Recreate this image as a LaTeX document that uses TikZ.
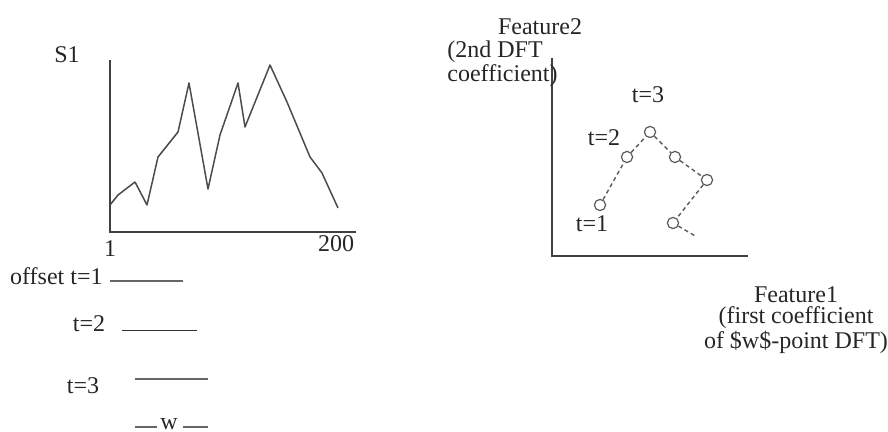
\documentclass[tikz,border=0pt]{standalone}
\usepackage{fontspec}
\setmainfont{Liberation Serif}
\usetikzlibrary{positioning}
\tikzset{
  axisline/.style={
    draw=black!75,
    line width=1.1pt
  },
  seriesline/.style={
    draw=black!70,
    line width=0.75pt,
    line join=round
  },
  winline/.style={
    draw=black!60,
    line width=1.3pt
  },
  featpoint/.style={
    circle,
    draw=black!65,
    line width=0.6pt,
    minimum size=5.6pt,
    inner sep=0pt
  },
  featlink/.style={
    draw=black!65,
    line width=0.7pt,
    dash pattern=on 2pt off 1.6pt
  },
  lbl/.style={
    font=\fontsize{12}{10.5}\selectfont,
    inner sep=0pt,
    text=black!85
  }
}

\begin{document}
\begin{tikzpicture}[x=0.5pt, y=-0.5pt]
  \useasboundingbox (0,0) rectangle (888,432);
  \coordinate (stop) at (110,60);
  \coordinate (sorig) at (110,232);
  \coordinate (send) at (356,232);
  \draw[axisline] (stop) -- (sorig) -- (send);
  \draw[seriesline] (110,205) -- (118,195) -- (135,182) -- (147,205) -- (158,157)
    -- (178,132) -- (189,83) -- (208,189) -- (220,135) -- (238,83) -- (245,127)
    -- (270,65) -- (287,102) -- (310,157) -- (322,173) -- (338,208);
  \node[lbl] (s1) at (67,55) {S1};
  \node[lbl] (first) at (110,249) {1};
  \node[lbl] (last) at (336,244) {200};
  \node[lbl, anchor=east] (off1) at (103,276) {offset t=1};
  \node[lbl] (off2) at (89,324) {t=2};
  \node[lbl] (off3) at (83,386) {t=3};
  \draw[winline] (110,281) -- (183,281);
  \draw[draw=black!80, line width=0.4pt] (122,330) -- (197,330);
  \draw[winline] (135,379) -- (208,379);
  \node[lbl] (wlen) at (169,424) {w};
  \draw[winline] (135,427) -- (157,427);
  \draw[winline] (183,427) -- (208,427);
  \coordinate (ftop) at (552,58);
  \coordinate (forig) at (552,256);
  \coordinate (fend) at (748,256);
  \draw[axisline] (ftop) -- (forig) -- (fend);
  \node[featpoint] (c1) at (600,205) {};
  \node[featpoint] (c2) at (627,157) {};
  \node[featpoint] (c3) at (650,132) {};
  \node[featpoint] (c4) at (675,157) {};
  \node[featpoint] (c5) at (707,180) {};
  \node[featpoint] (c6) at (673,223) {};
  \coordinate (tail) at (697,237);
  \draw[featlink] (c1) -- (c2) -- (c3) -- (c4) -- (c5) -- (c6) -- (tail);
  \node[lbl] (t1) at (592,224) {t=1};
  \node[lbl] (t2) at (604,138) {t=2};
  \node[lbl] (t3) at (648,95) {t=3};
  \node[lbl] (feat2) at (540,27) {Feature2};
  \node[lbl, anchor=west, align=left] (feat2note) at (447,64) {(2nd DFT\\coefficient)};
  \node[lbl, align=center] (feat1) at (796,320) {Feature1\\(first coefficient\\of \$w\$-point DFT)};
\end{tikzpicture}
\end{document}
